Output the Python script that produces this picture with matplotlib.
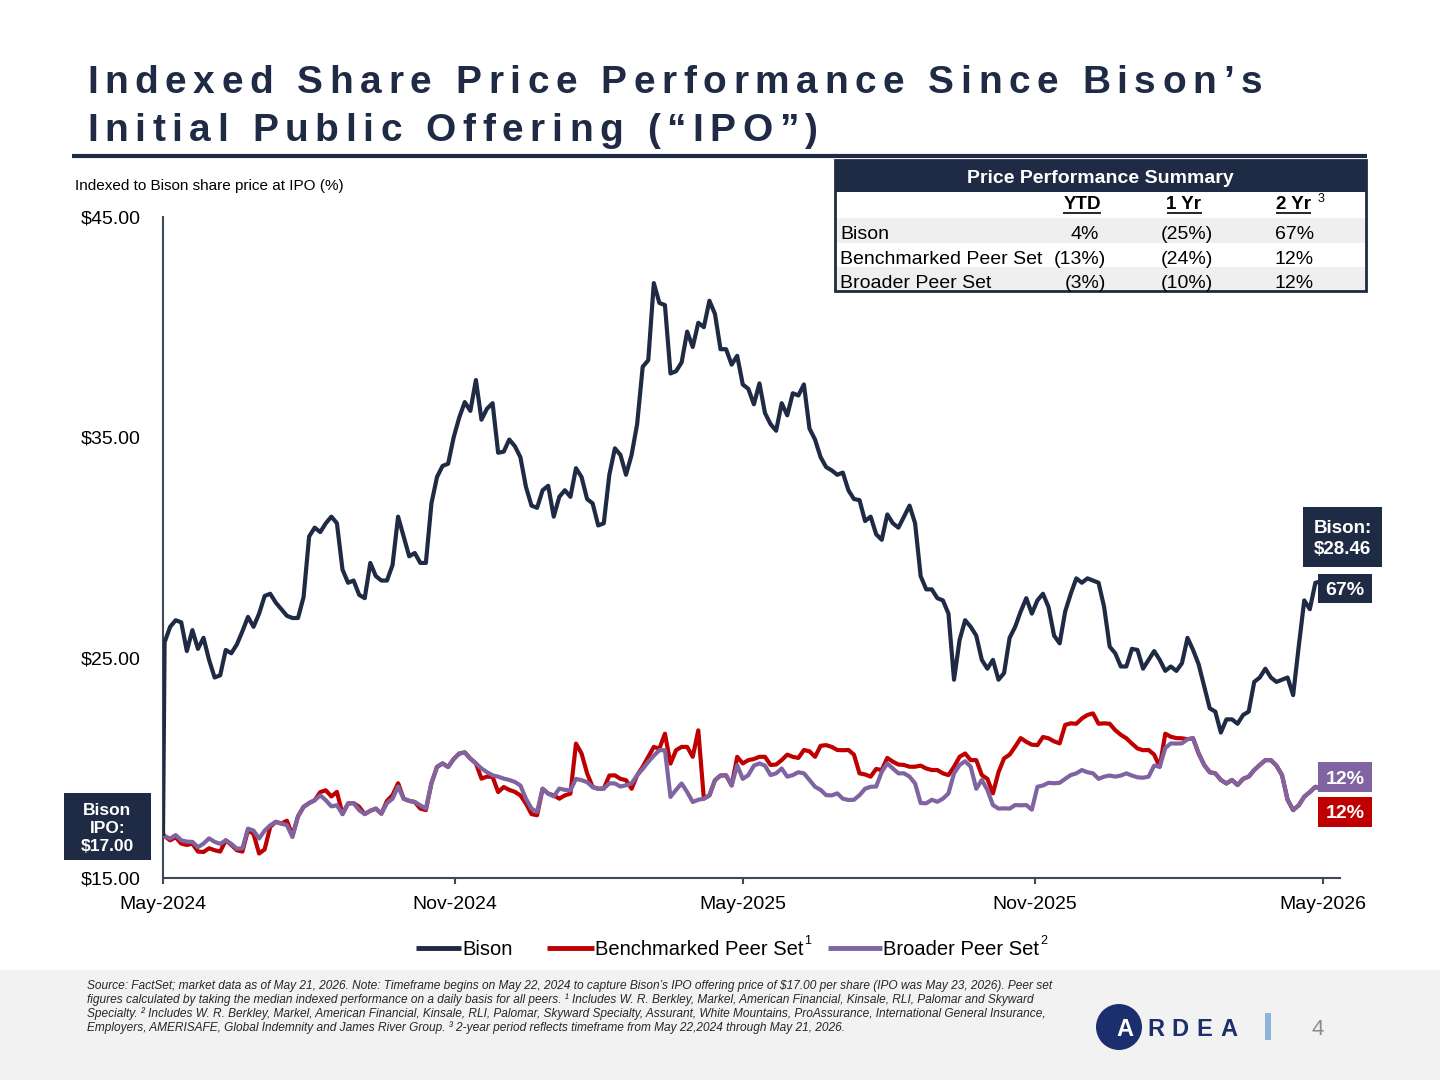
import matplotlib
matplotlib.use("Agg")
import matplotlib.pyplot as plt
from matplotlib.patches import Rectangle, Ellipse
from matplotlib.lines import Line2D
from matplotlib import font_manager
import pandas as pd

plt.rcParams["font.family"] = ["Liberation Sans", "DejaVu Sans"]
plt.rcParams["text.parse_math"] = False

W, H = 1440, 1080
NAVY = "#1f2a44"
RED = "#c00000"
PURPLE = "#8064a2"
AXIS = "#404858"
LOGO_BLUE = "#1b2f6e"

# IPO reference day, then twice-weekly closes
ipo_date = ["2024-05-22"]
obs_dates = pd.date_range("2024-05-23", "2026-05-21", freq="84h")

bison = [17.00,
         25.7, 26.4, 26.7, 26.6, 25.3, 26.25, 25.4, 25.9, 24.9, 24.1,
         24.2, 25.35, 25.2, 25.6, 26.2, 26.85, 26.4, 27.0, 27.8, 27.9,
         27.5, 27.2, 26.9, 26.8, 26.8, 27.75, 30.5, 30.9, 30.7, 31.1,
         31.4, 31.1, 29.0, 28.4, 28.5, 27.85, 27.7, 29.3, 28.7, 28.5,
         28.5, 29.2, 31.4, 30.5, 29.6, 29.75, 29.3, 29.3, 32.0, 33.2,
         33.7, 33.8, 35.0, 35.9, 36.6, 36.2, 37.6, 35.8, 36.3, 36.55,
         34.3, 34.35, 34.9, 34.6, 34.1, 32.75, 31.9, 31.8, 32.6, 32.8,
         31.4, 32.3, 32.6, 32.3, 33.6, 33.2, 32.2, 32.0, 31.0, 31.1,
         33.3, 34.5, 34.2, 33.3, 34.2, 35.6, 38.2, 38.5, 42.0, 41.1,
         41.0, 37.9, 38.0, 38.4, 39.8, 39.1, 40.2, 40.0, 41.2, 40.6,
         39.0, 39.0, 38.3, 38.7, 37.4, 37.2, 36.5, 37.45, 36.1, 35.6,
         35.3, 36.55, 36.0, 37.0, 36.9, 37.4, 35.4, 34.9, 34.1, 33.65,
         33.5, 33.3, 33.4, 32.6, 32.2, 32.15, 31.2, 31.4, 30.6, 30.35,
         31.5, 31.1, 30.9, 31.4, 31.9, 31.1, 28.7, 28.1, 28.1, 27.7,
         27.6, 27.0, 24.0, 25.8, 26.7, 26.4, 26.0, 24.9, 24.5, 24.9,
         24.0, 24.3, 25.9, 26.4, 27.1, 27.7, 27.0, 27.6, 27.9, 27.3,
         26.0, 25.65, 27.1, 27.9, 28.6, 28.4, 28.6, 28.5, 28.4, 27.3,
         25.5, 25.2, 24.6, 24.6, 25.4, 25.35, 24.5, 24.9, 25.3, 24.9,
         24.4, 24.6, 24.4, 24.75, 25.9, 25.35, 24.7, 23.7, 22.7, 22.55,
         21.6, 22.2, 22.2, 22.0, 22.4, 22.55, 23.9, 24.1, 24.5, 24.1,
         23.9, 24.0, 24.1, 23.3, 25.5, 27.6, 27.2, 28.4,
         28.46]

bench = [17.00,
         16.9, 16.71, 16.85, 16.56, 16.5, 16.56, 16.2, 16.18, 16.35, 16.26,
         16.2, 16.71, 16.5, 16.26, 16.2, 17.17, 17.0, 16.11, 16.3, 17.32,
         17.55, 17.47, 17.6, 16.94, 17.8, 18.23, 18.4, 18.53, 18.9, 18.98,
         18.7, 18.91, 17.9, 18.38, 18.4, 18.23, 17.9, 18.05, 18.15, 17.92,
         18.5, 18.76, 19.3, 18.6, 18.5, 18.45, 18.15, 18.08, 19.3, 20.04,
         20.2, 20.04, 20.4, 20.65, 20.7, 20.42, 20.2, 19.51, 19.6, 19.59,
         18.9, 19.13, 19.0, 18.91, 18.75, 18.38, 17.9, 17.85, 19.05, 18.83,
         18.75, 18.6, 18.75, 18.83, 21.1, 20.65, 19.75, 19.13, 19.05, 19.06,
         19.65, 19.66, 19.5, 19.44, 19.05, 19.66, 20.05, 20.5, 20.95, 20.87,
         21.55, 20.19, 20.8, 20.95, 20.95, 20.5, 21.7, 18.6, 18.75, 19.44,
         19.65, 19.66, 19.2, 20.5, 20.2, 20.35, 20.4, 20.5, 20.5, 20.13,
         20.15, 20.35, 20.6, 20.5, 20.45, 20.81, 20.75, 20.5, 21.0, 21.03,
         20.95, 20.81, 20.8, 20.81, 20.6, 19.75, 19.7, 19.6, 19.95, 19.9,
         20.45, 20.28, 20.15, 20.13, 20.05, 20.05, 20.1, 19.97, 19.9, 19.9,
         19.75, 19.67, 20.05, 20.5, 20.65, 20.35, 20.35, 19.67, 19.5, 18.84,
         19.8, 20.43, 20.6, 20.96, 21.35, 21.18, 21.05, 21.03, 21.4, 21.34,
         21.2, 21.11, 21.95, 22.02, 22.0, 22.24, 22.4, 22.47, 22.0, 22.02,
         22.0, 21.71, 21.5, 21.34, 21.1, 20.88, 20.8, 20.81, 20.6, 20.05,
         21.55, 21.41, 21.35, 21.34, 21.3, 21.34, 20.65, 20.13, 19.8, 19.75,
         19.45, 19.29, 19.45, 19.22, 19.5, 19.6, 19.9, 20.13, 20.35, 20.35,
         20.1, 19.67, 18.55, 18.08, 18.3, 18.69, 18.9, 19.14,
         19.04]

broad = [17.00,
         16.9, 16.79, 16.95, 16.71, 16.65, 16.64, 16.4, 16.56, 16.8, 16.64,
         16.55, 16.71, 16.55, 16.33, 16.35, 17.24, 17.15, 16.79, 17.15, 17.39,
         17.55, 17.47, 17.4, 16.86, 17.8, 18.23, 18.4, 18.53, 18.75, 18.53,
         18.25, 18.3, 17.9, 18.38, 18.4, 18.08, 17.9, 18.05, 18.15, 17.92,
         18.4, 18.6, 19.15, 18.6, 18.5, 18.45, 18.3, 18.15, 19.3, 20.04,
         20.2, 20.04, 20.4, 20.65, 20.7, 20.42, 20.2, 19.97, 19.8, 19.66,
         19.6, 19.51, 19.45, 19.36, 19.2, 18.6, 18.15, 18.0, 19.05, 18.83,
         18.7, 19.06, 19.0, 18.98, 19.5, 19.44, 19.35, 19.13, 19.05, 19.06,
         19.3, 19.29, 19.15, 19.21, 19.3, 19.66, 19.95, 20.27, 20.55, 20.8,
         20.8, 18.68, 19.0, 19.29, 18.9, 18.45, 18.55, 18.6, 18.75, 19.44,
         19.65, 19.66, 19.2, 20.12, 19.5, 19.67, 20.1, 20.2, 20.1, 19.67,
         19.75, 19.97, 19.6, 19.67, 19.8, 19.75, 19.45, 19.14, 19.0, 18.76,
         18.75, 18.84, 18.6, 18.54, 18.55, 18.76, 19.05, 19.14, 19.15, 19.82,
         20.2, 19.97, 19.75, 19.75, 19.6, 19.29, 18.4, 18.39, 18.55, 18.46,
         18.6, 18.84, 19.75, 20.13, 20.3, 20.05, 19.05, 19.45, 19.0, 18.31,
         18.15, 18.16, 18.15, 18.31, 18.3, 18.31, 18.1, 19.14, 19.2, 19.32,
         19.3, 19.32, 19.5, 19.67, 19.75, 19.9, 19.8, 19.75, 19.5, 19.6,
         19.65, 19.6, 19.65, 19.75, 19.65, 19.57, 19.55, 19.6, 20.1, 20.05,
         20.9, 21.11, 21.1, 21.11, 21.3, 21.34, 20.65, 20.13, 19.8, 19.75,
         19.45, 19.29, 19.45, 19.22, 19.5, 19.6, 19.9, 20.13, 20.35, 20.35,
         20.1, 19.67, 18.55, 18.08, 18.3, 18.69, 18.9, 19.14,
         19.04]

y_ticks = [15, 25, 35, 45]
x_tick_dates = ["2024-05-22", "2024-11-22", "2025-05-22", "2025-11-22", "2026-05-22"]
x_tick_labels = ["May-2024", "Nov-2024", "May-2025", "Nov-2025", "May-2026"]

table_cols = ["YTD", "1 Yr", "2 Yr"]
table_rows = ["Bison", "Benchmarked Peer Set", "Broader Peer Set"]
table_vals = [[4, -25, 67], [-13, -24, 12], [-3, -10, 12]]

footnotes = [
    "Source: FactSet; market data as of May 21, 2026. Note: Timeframe begins on May 22, 2024 to capture Bison\u2019s IPO offering price of $17.00 per share (IPO was May 23, 2026). Peer set",
    "figures calculated by taking the median indexed performance on a daily basis for all peers. \u00b9 Includes W. R. Berkley, Markel, American Financial, Kinsale, RLI, Palomar and Skyward",
    "Specialty. \u00b2 Includes W. R. Berkley, Markel, American Financial, Kinsale, RLI, Palomar, Skyward Specialty, Assurant, White Mountains, ProAssurance, International General Insurance,",
    "Employers, AMERISAFE, Global Indemnity and James River Group. \u00b3 2-year period reflects timeframe from May 22,2024 through May 21, 2026.",
]

fig = plt.figure(figsize=(W / 100, H / 100), dpi=100)
renderer = fig.canvas.get_renderer()


def put(x, y, s, size, **kw):
    kw.setdefault("va", "baseline")
    return fig.text(x / W, 1 - y / H, s, fontsize=size, **kw)


def width_of(s, size, **kw):
    t = fig.text(0, 0, s, fontsize=size, **kw)
    w = t.get_window_extent(renderer).width
    t.remove()
    return w


def box(x0, y0, x1, y1, face, edge="none", lw=0, z=1):
    fig.add_artist(Rectangle((x0 / W, 1 - y1 / H), (x1 - x0) / W, (y1 - y0) / H,
                             transform=fig.transFigure, facecolor=face,
                             edgecolor=edge, linewidth=lw, zorder=z))


def hline(x0, x1, y, color, lw):
    fig.add_artist(Line2D([x0 / W, x1 / W], [1 - y / H, 1 - y / H],
                          transform=fig.transFigure, color=color, lw=lw,
                          solid_capstyle="butt"))


def spaced(x, y, s, size, gap, **kw):
    for ch in s:
        if ch == " ":
            x += 0.278 * size * 100 / 72 + gap
            continue
        put(x, y, ch, size, **kw)
        x += width_of(ch, size, **kw) + gap
    return x


def gap_for(s, size, target, **kw):
    natural = sum(0.278 * size * 100 / 72 if ch == " " else width_of(ch, size, **kw) for ch in s)
    return (target - natural) / (len(s) - 1)


def label(x0, y0, x1, y1, color, s, size):
    box(x0, y0, x1, y1, color, z=5)
    fig.text((x0 + x1) / 2 / W, 1 - ((y0 + y1) / 2 + 2) / H, s, fontsize=size,
             color="white", fontweight="bold", ha="center", va="center",
             multialignment="center", linespacing=1.25, zorder=6)


# title
title1 = "Indexed Share Price Performance Since Bison\u2019s"
title2 = "Initial Public Offering (\u201cIPO\u201d)"
tg = gap_for(title1, 28, 1175, fontweight="bold")
spaced(87, 93, title1, 28, tg, fontweight="bold", color=NAVY)
spaced(87, 141, title2, 28, tg, fontweight="bold", color=NAVY)
hline(72, 1367, 156, NAVY, 3)

put(75, 190, "Indexed to Bison share price at IPO (%)", 11, color="black")

# chart
ax = fig.add_axes([163 / W, 1 - 878 / H, (1340 - 163) / W, (878 - 217) / H])
dates = pd.to_datetime(ipo_date).append(obs_dates)
ax.plot(dates, bench, color=RED, lw=3, zorder=2, solid_joinstyle="round")
ax.plot(dates, broad, color=PURPLE, lw=3, zorder=3, solid_joinstyle="round")
ax.plot(dates, bison, color=NAVY, lw=3, zorder=4, solid_joinstyle="round")
ax.set_xlim(pd.Timestamp("2024-05-22"), pd.Timestamp("2026-06-02"))
ax.set_ylim(15, 45)
ax.set_yticks(y_ticks)
ax.set_yticklabels(["$%.2f" % v for v in y_ticks])
ax.set_xticks(pd.to_datetime(x_tick_dates))
ax.set_xticklabels(x_tick_labels)
ax.tick_params(axis="y", length=0, pad=15.8, labelsize=14)
ax.tick_params(axis="x", length=4.3, width=1.5, color=AXIS, direction="out", pad=8.6, labelsize=14)
for s in ["top", "right"]:
    ax.spines[s].set_visible(False)
for s in ["left", "bottom"]:
    ax.spines[s].set_color(AXIS)
    ax.spines[s].set_linewidth(1.5)

# end-of-line labels
label(1303, 507, 1382, 567, NAVY, "Bison:\n$28.46", 13.5)
label(1318, 574, 1372, 603, NAVY, "67%", 14)
label(1318, 762, 1372, 792, PURPLE, "12%", 14)
label(1318, 797, 1372, 827, RED, "12%", 14)
label(64, 793, 151, 860, NAVY, "Bison\nIPO:\n$17.00", 12.5)

# summary table
box(835, 218, 1366, 243, "#efefef", z=1)
box(835, 267, 1366, 291, "#efefef", z=1)
box(835, 160, 1366, 192, NAVY, z=1)
box(835, 160, 1366, 291, "none", edge=NAVY, lw=2, z=2)
put(1100, 183, "Price Performance Summary", 14, color="white", fontweight="bold", ha="center")
col_centers = [1082, 1184, 1293]
col_rights = [1106, 1213, 1321]
for c, name in zip(col_centers, table_cols):
    put(c, 209, name, 13.5, fontweight="bold", ha="center")
    w = width_of(name, 13.5, fontweight="bold")
    hline(c - w / 2, c + w / 2, 212.5, "black", 1.2)
put(1318, 202, "3", 9)
for r, (name, vals) in enumerate(zip(table_rows, table_vals)):
    yb = 239 + r * 24.5
    put(840, yb, name, 14)
    for c, v in zip(col_rights, vals):
        if v >= 0:
            put(c - 7, yb, "%d%%" % v, 14, ha="right")
        else:
            put(c, yb, "(%d%%)" % -v, 14, ha="right")

# legend
try:
    font_manager.findfont(font_manager.FontProperties(family="Liberation Sans Narrow"),
                          fallback_to_default=False)
    leg_family, leg_size = ["Liberation Sans Narrow", "Liberation Sans"], 17
except ValueError:
    leg_family, leg_size = ["Liberation Sans"], 14.5
legend_items = [(416, 461, "Bison", "", NAVY),
                (547, 594, "Benchmarked Peer Set", "1", RED),
                (828, 882, "Broader Peer Set", "2", PURPLE)]
for x0, x1, name, sup, color in legend_items:
    hline(x0, x1, 948, color, 3.5)
    put(x1 + 1, 948 + 0.497 * leg_size, name, leg_size, family=leg_family)
    if sup:
        w = width_of(name, leg_size, family=leg_family)
        put(x1 + 2 + w, 944, sup, 9, family=leg_family)

# footer
box(0, 970, W, H, "#f2f2f2", z=0)
fs = 8 * 978 / width_of(footnotes[0], 8, style="italic")
for i, line in enumerate(footnotes):
    put(87, 989 + 14 * i, line, fs, style="italic", color="#262626")

fig.add_artist(Ellipse((1119 / W, 1 - 1027 / H), 46 / W, 46 / H, transform=fig.transFigure,
                       facecolor=LOGO_BLUE, edgecolor="none"))
put(1125, 1035.5, "A", 17, color="white", fontweight="bold", ha="center")
rg = gap_for("RDEA", 17, 90, fontweight="bold")
spaced(1147, 1035.5, "RDEA", 17, rg, fontweight="bold", color=LOGO_BLUE)
box(1265, 1013, 1271, 1040, "#8fb3d9", z=1)
put(1318, 1035, "4", 16, color="#8c8c8c", ha="center")

fig.savefig("out.png", dpi=100)
